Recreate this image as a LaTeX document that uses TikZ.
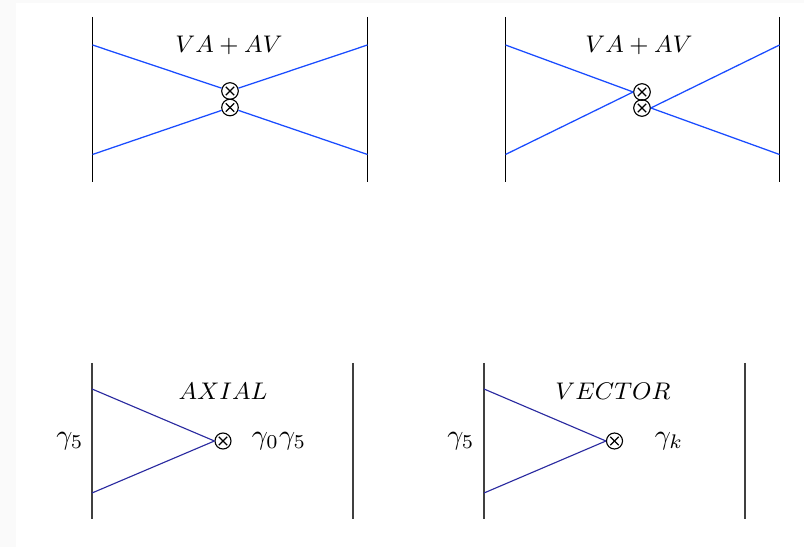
\documentclass[tikz,border=0pt]{standalone}
\usepackage{amsmath,amssymb}
\usepackage{graphicx}
\usepackage{xcolor}
\usetikzlibrary{positioning, calc}
\definecolor{pagegray}{HTML}{FAFAFA}
\definecolor{legblue}{HTML}{1A4CFF}
\definecolor{legnavy}{HTML}{2A2AA0}
\newcommand{\ttl}[1]{\scalebox{0.95}{$#1$}}

\begin{document}
\begin{tikzpicture}[
  x=0.0125cm, y=-0.0125cm,
  wall/.style={draw=black, line width=0.5pt},
  wallb/.style={draw=black!75, line width=0.5pt},
  leg/.style={draw=legblue, line width=0.45pt},
  legb/.style={draw=legnavy, line width=0.4pt},
  title/.style={font=\small},
  vtx/.style={circle, draw, line width=0.4pt, inner sep=0pt, minimum size=#1,
              path picture={
                \draw ([shift={(-1.5pt,-1.5pt)}]path picture bounding box.center) -- ++(3pt,3pt);
                \draw ([shift={(-1.5pt,1.5pt)}]path picture bounding box.center) -- ++(3pt,-3pt);
              }},
  vtx/.default=5.9pt
]
\useasboundingbox (0,0) rectangle (804,547);
\fill[pagegray] (0,0) rectangle (804,547);
\fill[white] (16,3) rectangle (804,547);
%% top left
\coordinate (a_wl_t) at (92.5,17);
\coordinate (a_wl_b) at (92.5,182);
\coordinate (a_wr_t) at (367.5,17);
\coordinate (a_wr_b) at (367.5,182);
\coordinate (a_lt) at (92.5,45);
\coordinate (a_lb) at (92.5,154.5);
\coordinate (a_rt) at (367.5,45);
\coordinate (a_rb) at (367.5,154.5);
\node[vtx] (a_up) at (230,91) {};
\node[vtx] (a_dn) at (230,107.5) {};
\node[title] (a_name) at (229,45.5) {\ttl{VA+AV}};
\draw[wall] (a_wl_t) -- (a_wl_b);
\draw[wall] (a_wr_t) -- (a_wr_b);
\draw[leg] (a_lt) -- (a_up);
\draw[leg] (a_lb) -- (a_dn);
\draw[leg] (a_rt) -- (a_up);
\draw[leg] (a_rb) -- (a_dn);
%% top right
\coordinate (b_wl_t) at (505.5,17);
\coordinate (b_wl_b) at (505.5,182);
\coordinate (b_wr_t) at (779.5,17);
\coordinate (b_wr_b) at (779.5,182);
\coordinate (b_lt) at (505.5,45);
\coordinate (b_lb) at (505.5,154.5);
\coordinate (b_rt) at (779.5,45);
\coordinate (b_rb) at (779.5,154.5);
\node[vtx] (b_up) at (642,92) {};
\node[vtx] (b_dn) at (642,108) {};
\node[title] (b_name) at (639,45.5) {\ttl{VA+AV}};
\draw[wall] (b_wl_t) -- (b_wl_b);
\draw[wall] (b_wr_t) -- (b_wr_b);
\draw[leg] (b_lt) -- (b_up.west);
\draw[leg] (b_lb) -- (b_up.west);
\draw[leg] (b_rt) -- (b_dn.east);
\draw[leg] (b_rb) -- (b_dn.east);
%% bottom left
\coordinate (c_wl_t) at (92,363);
\coordinate (c_wl_b) at (92,519.5);
\coordinate (c_wr_t) at (353,363);
\coordinate (c_wr_b) at (353,519.5);
\coordinate (c_lt) at (92,389);
\coordinate (c_lb) at (92,493);
\node[vtx=5.7pt] (c_op) at (223,441) {};
\node[title] (c_name) at (223,391) {\ttl{AXIAL}};
\node (c_src) at (70,441) {$\gamma_5$};
\node (c_snk) at (279,441) {$\gamma_0\gamma_5$};
\draw[wallb] (c_wl_t) -- (c_wl_b);
\draw[wallb] (c_wr_t) -- (c_wr_b);
\draw[legb] (c_lt) -- (c_op.west);
\draw[legb] (c_lb) -- (c_op.west);
%% bottom right
\coordinate (d_wl_t) at (484,363);
\coordinate (d_wl_b) at (484,519.5);
\coordinate (d_wr_t) at (745,363);
\coordinate (d_wr_b) at (745,519.5);
\coordinate (d_lt) at (484,389);
\coordinate (d_lb) at (484,493);
\node[vtx=5.7pt] (d_op) at (614.5,441) {};
\node[title] (d_name) at (613,391) {\ttl{VECTOR}};
\node (d_src) at (461,441) {$\gamma_5$};
\node (d_snk) at (669,441) {$\gamma_k$};
\draw[wallb] (d_wl_t) -- (d_wl_b);
\draw[wallb] (d_wr_t) -- (d_wr_b);
\draw[legb] (d_lt) -- (d_op.west);
\draw[legb] (d_lb) -- (d_op.west);
\end{tikzpicture}
\end{document}
